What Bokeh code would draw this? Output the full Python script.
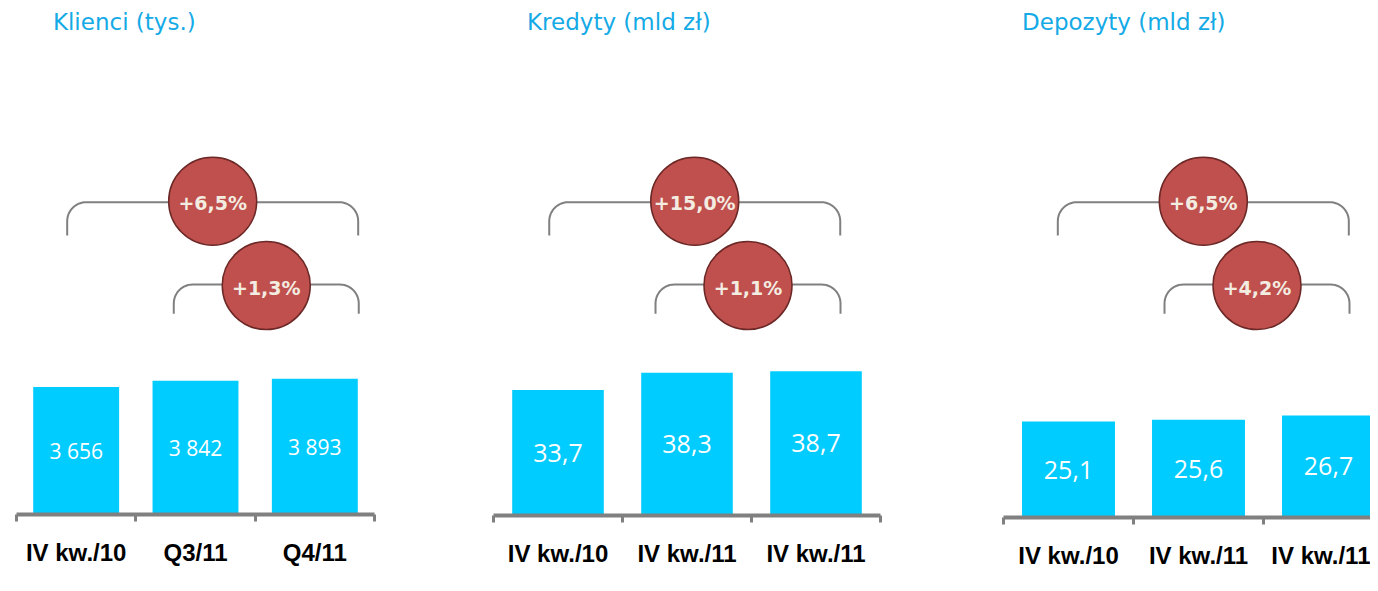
import numpy as np
from bokeh.plotting import figure
from bokeh.layouts import row
from bokeh.models import Range1d, LinearAxis, FixedTicker, ColumnDataSource
from bokeh.core.properties import value
from bokeh.embed import file_html
from bokeh.resources import INLINE

# ---------------- data ----------------
titles = ["Klienci (tys.)", "Kredyty (mld zł)", "Depozyty (mld zł)"]
categories_klienci = ["IV kw./10", "Q3/11", "Q4/11"]
categories_kredyty = ["IV kw./10", "IV kw./11", "IV kw./11"]
categories_depozyty = ["IV kw./10", "IV kw./11", "IV kw./11"]
values_klienci = [3656, 3842, 3893]
values_kredyty = [33.7, 38.3, 38.7]
values_depozyty = [25.1, 25.6, 26.7]
labels_klienci = ["3 656", "3 842", "3 893"]
labels_kredyty = ["33,7", "38,3", "38,7"]
labels_depozyty = ["25,1", "25,6", "26,7"]
growth_year = ["+6,5%", "+15,0%", "+6,5%"]
growth_quarter = ["+1,3%", "+1,1%", "+4,2%"]

# ---------------- layout / style ----------------
BAR = "#00CCFF"
TITLE_C = "#14AAE6"
AXIS_C = "#808080"
BUBBLE = "#C0504D"
BUBBLE_LINE = "#6B2826"
BUBBLE_TXT = "#F3ECE1"

panels = [
    dict(cats=categories_klienci, vals=values_klienci, labs=labels_klienci,
         bl=16, fw=358, br=104, step=358 / 3, x_end=2.5, fh=506, fb=514, y_end=14522,
         bw=0.72, lab_size="21px", title_x=-0.195, big_x=1.144, small_x=1.593),
    dict(cats=categories_kredyty, vals=values_kredyty, labs=labels_kredyty,
         bl=15, fw=387, br=105, step=129, x_end=2.5, fh=507, fb=515, y_end=136.1,
         bw=0.71, lab_size="25px", title_x=-0.24, big_x=1.060, small_x=1.473),
    dict(cats=categories_depozyty, vals=values_depozyty, labs=labels_depozyty,
         bl=18, fw=367, br=0, step=130, x_end=-0.5 + 367 / 130, fh=509, fb=517, y_end=133.2,
         bw=0.715, lab_size="25px", title_x=-0.357, big_x=1.037, small_x=1.450),
]

TOP = 8
TOTAL_H = 583


def bracket(cx, step, y_h, y_end, hw_left, hw_right, r=19.0, n=14):
    """Bracket path: x in category units, y in page pixels."""
    xs, ys = [], []
    L, R = -hw_left, hw_right
    xs += [L]; ys += [y_end]
    for t in np.linspace(np.pi, np.pi / 2, n):
        xs.append(L + r + r * np.cos(t)); ys.append(y_h + r - r * np.sin(t))
    for t in np.linspace(np.pi / 2, 0, n):
        xs.append(R - r + r * np.cos(t)); ys.append(y_h + r - r * np.sin(t))
    xs += [R]; ys += [y_end]
    return [cx + x / step for x in xs], ys


figs = []
for i, cfg in enumerate(panels):
    p = figure(frame_width=cfg["fw"], frame_height=cfg["fh"],
               x_range=Range1d(-0.5, cfg["x_end"]), y_range=Range1d(0, cfg["y_end"]),
               output_backend="svg", toolbar_location=None,
               x_axis_location=None, y_axis_location=None,
               min_border_left=cfg["bl"], min_border_right=cfg["br"],
               min_border_top=TOP, min_border_bottom=TOTAL_H - TOP - cfg["fh"],
               outline_line_color=None, background_fill_color="white",
               border_fill_color="white")
    p.grid.visible = False
    p.extra_y_ranges = {"ann": Range1d(start=cfg["fb"], end=TOP)}

    n = len(cfg["cats"])
    xs = list(range(n))
    src = ColumnDataSource(dict(x=xs, top=cfg["vals"],
                                mid=[v / 2 for v in cfg["vals"]], lab=cfg["labs"]))
    p.vbar(x="x", top="top", bottom=0, width=cfg["bw"], source=src,
           fill_color=BAR, line_color=None)
    p.text(x="x", y="mid", text="lab", source=src, text_align="center",
           text_baseline="middle", text_color="white",
           text_font=value("Open Sans"), text_font_size=cfg["lab_size"])

    axis = LinearAxis(ticker=FixedTicker(ticks=xs, minor_ticks=[k - 0.5 for k in range(n + 1)]),
                      major_label_overrides={k: c for k, c in enumerate(cfg["cats"])})
    axis.axis_line_color = AXIS_C
    axis.axis_line_width = 4
    axis.major_tick_line_color = None
    axis.major_tick_in = 0
    axis.major_tick_out = 0
    axis.minor_tick_line_color = AXIS_C
    axis.minor_tick_line_width = 3
    axis.minor_tick_in = 0
    axis.minor_tick_out = 7
    axis.major_label_text_font = "Liberation Sans"
    axis.major_label_text_font_style = "bold"
    axis.major_label_text_font_size = "24px"
    axis.major_label_text_color = "#000000"
    axis.major_label_standoff = 17
    p.add_layout(axis, "below")

    # title
    p.text(x=[cfg["title_x"]], y=[21.5], text=[titles[i]], y_range_name="ann",
           text_align="left", text_baseline="middle", text_color=TITLE_C,
           text_font=value("DejaVu Sans"), text_font_size="23px")

    # growth brackets
    bx, by = bracket(cfg["big_x"], cfg["step"], 201.7, 235, 145.5, 145.5)
    p.line(bx, by, y_range_name="ann", line_color=AXIS_C, line_width=2)
    sx, sy = bracket(cfg["small_x"], cfg["step"], 284, 313.3, 92.5, 92.5)
    p.line(sx, sy, y_range_name="ann", line_color=AXIS_C, line_width=2)

    # growth bubbles
    p.scatter(x=[cfg["big_x"], cfg["small_x"]], y=[200.7, 285], size=88, marker="circle",
              y_range_name="ann", fill_color=BUBBLE, line_color=BUBBLE_LINE, line_width=1.5)
    p.text(x=[cfg["big_x"], cfg["small_x"]], y=[202.8, 287.1],
           text=[growth_year[i], growth_quarter[i]], y_range_name="ann",
           text_align="center", text_baseline="middle", text_color=BUBBLE_TXT,
           text_font=value("DejaVu Sans"), text_font_style="bold", text_font_size="19px")
    figs.append(p)

layout = row(*figs)
open("out.html", "w").write(file_html(layout, INLINE))
